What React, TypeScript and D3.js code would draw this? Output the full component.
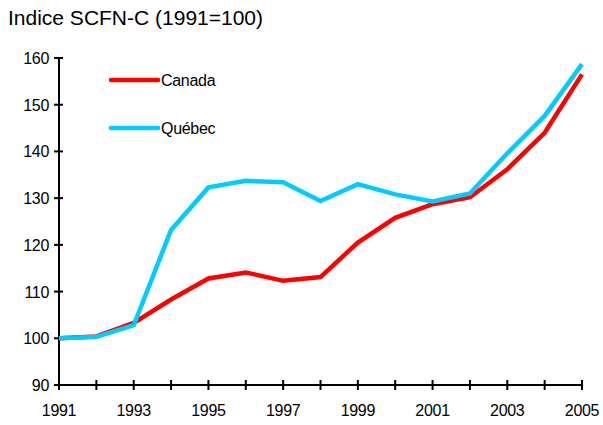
import React, { useEffect, useRef } from "react";
import * as d3 from "d3";

const years = [1991, 1992, 1993, 1994, 1995, 1996, 1997, 1998, 1999, 2000, 2001, 2002, 2003, 2004, 2005];
const canada = [100, 100.4, 103.3, 108.3, 112.8, 114.1, 112.3, 113.1, 120.5, 125.8, 128.7, 130.2, 136.2, 144.0, 156.5];
const quebec = [100, 100.3, 102.8, 123.2, 132.3, 133.7, 133.4, 129.4, 133.0, 130.8, 129.3, 131.0, 139.6, 147.6, 158.7];
const yTicks = [90, 100, 110, 120, 130, 140, 150, 160];
const xLabels = [1991, 1993, 1995, 1997, 1999, 2001, 2003, 2005];

const series = [
  { name: "Canada", values: canada, color: "#ff0000" },
  { name: "Québec", values: quebec, color: "#00ccff" },
];

const App = () => {
  const ref = useRef(null);

  useEffect(() => {
    const width = 603;
    const height = 425;
    const font = "'Liberation Sans', Arial, sans-serif";

    const svg = d3
      .select(ref.current)
      .append("svg")
      .attr("width", width)
      .attr("height", height)
      .style("display", "block");

    const x = d3.scaleLinear().domain([1991, 2005]).range([59, 582]);
    const y = d3.scaleLinear().domain([90, 160]).range([385, 58]);

    // title
    svg
      .append("text")
      .attr("x", 8)
      .attr("y", 25)
      .style("font-family", font)
      .style("font-size", "21px")
      .style("fill", "#000")
      .text("Indice SCFN-C (1991=100)");

    // y axis
    svg
      .append("line")
      .attr("x1", x(1991))
      .attr("x2", x(1991))
      .attr("y1", y(160))
      .attr("y2", y(90))
      .attr("stroke", "#000")
      .attr("stroke-width", 2);

    yTicks.forEach((t) => {
      svg
        .append("line")
        .attr("x1", x(1991) - 5)
        .attr("x2", x(1991) + 4)
        .attr("y1", y(t))
        .attr("y2", y(t))
        .attr("stroke", "#000")
        .attr("stroke-width", 2);
      svg
        .append("text")
        .attr("x", 49)
        .attr("y", y(t) + 6)
        .attr("text-anchor", "end")
        .style("font-family", font)
        .style("font-size", "16px")
        .style("letter-spacing", "-0.3px")
        .text(t);
    });

    // x axis
    svg
      .append("line")
      .attr("x1", x(1991))
      .attr("x2", x(2005))
      .attr("y1", y(90))
      .attr("y2", y(90))
      .attr("stroke", "#000")
      .attr("stroke-width", 2);

    years.forEach((yr) => {
      svg
        .append("line")
        .attr("x1", x(yr))
        .attr("x2", x(yr))
        .attr("y1", y(90) - 5)
        .attr("y2", y(90) + 5)
        .attr("stroke", "#000")
        .attr("stroke-width", 2);
    });

    xLabels.forEach((yr) => {
      svg
        .append("text")
        .attr("x", x(yr))
        .attr("y", 416)
        .attr("text-anchor", "middle")
        .style("font-family", font)
        .style("font-size", "16px")
        .style("letter-spacing", "-0.3px")
        .text(yr);
    });

    const line = d3
      .line<number>()
      .x((_, i) => x(years[i]))
      .y((d) => y(d));

    // draw Canada first, Québec on top
    series.forEach((s) => {
      svg
        .append("path")
        .attr("d", line(s.values) as string)
        .attr("fill", "none")
        .attr("stroke", s.color)
        .attr("stroke-width", 4.5)
        .attr("stroke-linejoin", "miter");
    });

    // legend
    const legendY = [80, 128];
    series.forEach((s, i) => {
      svg
        .append("line")
        .attr("x1", 111)
        .attr("x2", 158)
        .attr("y1", legendY[i])
        .attr("y2", legendY[i])
        .attr("stroke", s.color)
        .attr("stroke-width", 4.5)
        .attr("stroke-linecap", "round");
      svg
        .append("text")
        .attr("x", 161)
        .attr("y", legendY[i] + 6)
        .style("font-family", font)
        .style("font-size", "16px")
        .style("letter-spacing", "-0.3px")
        .text(s.name);
    });

    return () => {
      d3.select(ref.current).select("svg").remove();
    };
  }, []);

  return <div ref={ref} style={{ position: "absolute", left: 0, top: 0 }}></div>;
};

export default App;
